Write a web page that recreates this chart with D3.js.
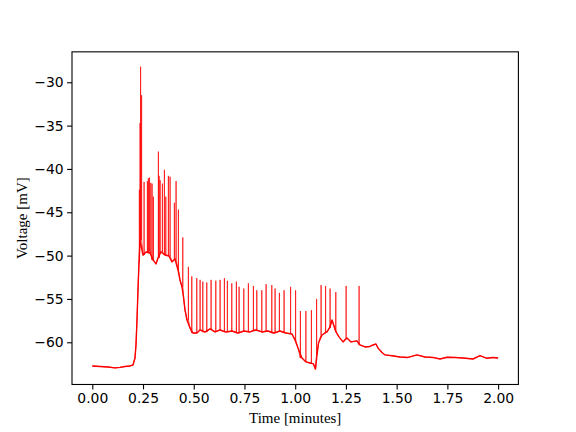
<!DOCTYPE html>
<html>
<head>
<meta charset="utf-8">
<script src="https://cdn.jsdelivr.net/npm/d3@7"></script>
<style>
  body { margin: 0; background: #fff; }
</style>
</head>
<body>
<svg id="chart" width="576" height="432"></svg>
<script>
// slow membrane trace (minutes, mV)
const baseTime = [0, 0.038, 0.077, 0.112, 0.137, 0.161, 0.186, 0.2006, 0.2104, 0.2154, 0.2203, 0.2252, 0.2302, 0.2351,
  0.2499, 0.2647, 0.2844, 0.2992, 0.3139, 0.3238, 0.3386, 0.3583, 0.378, 0.3928, 0.4076, 0.4224, 0.4323, 0.4421,
  0.4495, 0.4569, 0.4667, 0.4815, 0.4963, 0.516, 0.5308, 0.5555, 0.5801, 0.6047, 0.6294, 0.659, 0.6886, 0.7181,
  0.7477, 0.7773, 0.8068, 0.8364, 0.866, 0.8955, 0.9251, 0.9547, 0.9843, 0.999, 1.0138, 1.0335, 1.0532, 1.0729,
  1.0902, 1.1, 1.1074, 1.1148, 1.1321, 1.1567, 1.169, 1.1814, 1.1912, 1.2011, 1.2159, 1.2356, 1.2553, 1.275,
  1.3046, 1.3193, 1.3439, 1.3686, 1.3834, 1.3982, 1.4081, 1.4278, 1.4426, 1.477, 1.5165, 1.5559, 1.6003, 1.6397,
  1.6791, 1.7136, 1.7481, 1.7876, 1.827, 1.8763, 1.9108, 1.9453, 1.9749, 2.0];
const baseVolt = [-62.73, -62.79, -62.85, -62.96, -62.9, -62.79, -62.73, -62.62, -61.81, -60.31, -57.43, -53.96, -50.73, -48.2,
  -49.93, -49.58, -49.7, -50.5, -50.96, -50.27, -49.58, -49.93, -50.04, -50.73, -50.39, -51.66, -52.81, -53.62,
  -54.77, -56.27, -57.43, -58.35, -58.93, -58.93, -58.58, -58.81, -58.46, -58.81, -58.58, -58.81, -58.7, -58.93,
  -58.7, -58.81, -58.58, -58.81, -58.7, -58.93, -58.7, -58.93, -59.04, -59.73, -60.66, -61.81, -62.27, -62.39,
  -62.5, -63.1, -61.46, -60.08, -59.16, -58.81, -58.35, -57.43, -58.12, -58.81, -59.38, -59.96, -59.5, -59.96,
  -59.84, -60.31, -60.54, -60.48, -60.31, -60.2, -60.66, -61.18, -61.46, -61.55, -61.7, -61.75, -61.46, -61.7,
  -61.75, -61.93, -61.73, -61.75, -61.81, -61.93, -61.55, -61.85, -61.75, -61.81];

// spikes: time and peak voltage
const spikeTime = [0.2316, 0.235, 0.2376, 0.2425, 0.2548, 0.2711, 0.276, 0.2809, 0.2878, 0.2942, 0.3006, 0.3253,
  0.3287, 0.3337, 0.345, 0.3549, 0.3618, 0.3746, 0.3829, 0.4041, 0.4125, 0.4239, 0.4455, 0.4731, 0.4899, 0.5145,
  0.5308, 0.5441, 0.5638, 0.585, 0.6082, 0.6294, 0.6506, 0.6653, 0.687, 0.7097, 0.723, 0.7462, 0.7688, 0.7935,
  0.8102, 0.8349, 0.8561, 0.8842, 0.9004, 0.9216, 0.9448, 0.9768, 1.0015, 1.0251, 1.0522, 1.0793, 1.105, 1.1271,
  1.1493, 1.1715, 1.1996, 1.2504, 1.3144];
const spikePeak = [-42.4, -34.7, -28.2, -31.5, -41.5, -41.4, -41.1, -41.0, -41.6, -41.7, -43.2, -38.0,
  -40.8, -41.3, -41.7, -40.1, -43.2, -40.8, -40.9, -43.9, -41.4, -44.7, -47.9, -51.3, -52.4, -52.6,
  -52.8, -53.0, -53.1, -52.8, -52.9, -52.8, -52.6, -52.9, -53.2, -53.0, -53.6, -53.8, -53.2, -53.5,
  -54.0, -54.0, -53.3, -53.4, -53.8, -54.3, -54.0, -53.6, -54.0, -56.4, -56.4, -56.3, -55.0, -53.4,
  -53.5, -53.8, -54.2, -53.5, -53.5];

const xTicks = [0, 0.25, 0.5, 0.75, 1.0, 1.25, 1.5, 1.75, 2.0];
const yTicks = [-60, -55, -50, -45, -40, -35, -30];

const svg = d3.select("#chart");
const plot = { left: 72, right: 518.4, top: 51.84, bottom: 384.48 };

const x = d3.scaleLinear().domain([-0.1, 2.1]).range([plot.left, plot.right]);
const y = d3.scaleLinear().domain([-64.87, -26.49]).range([plot.bottom, plot.top]);

const base = baseTime.map((t, i) => [t, baseVolt[i]]);

// put the spikes into the trace, each one rising from the nearest trace sample
const points = base.slice();
spikeTime.forEach((t, i) => {
  let j = d3.bisectLeft(baseTime, t);
  if (j > 0 && (j >= baseTime.length || t - baseTime[j - 1] < baseTime[j] - t)) j = j - 1;
  const v0 = baseVolt[j];
  points.push([t, v0], [t + 0.0005, spikePeak[i]], [t + 0.001, v0]);
});
points.sort((a, b) => a[0] - b[0]);

const line = d3.line()
  .x(d => x(d[0]))
  .y(d => y(d[1]));

// thin full trace, then the slow part a bit heavier (it is noisy in the original)
svg.append("path")
  .datum(points)
  .attr("fill", "none")
  .attr("stroke", "#ff0000")
  .attr("stroke-width", 0.7)
  .attr("stroke-linejoin", "round")
  .attr("d", line);

svg.append("path")
  .datum(base)
  .attr("fill", "none")
  .attr("stroke", "#ff0000")
  .attr("stroke-width", 1.4)
  .attr("stroke-linejoin", "round")
  .attr("d", line);

// axes
const xAxis = d3.axisBottom(x)
  .tickValues(xTicks)
  .tickFormat(d3.format(".2f"))
  .tickSize(4.9)
  .tickPadding(3.5);

const yAxis = d3.axisLeft(y)
  .tickValues(yTicks)
  .tickFormat(d3.format("d"))
  .tickSize(4.9)
  .tickPadding(3.5);

const gx = svg.append("g")
  .attr("transform", `translate(0,${plot.bottom})`)
  .call(xAxis);
const gy = svg.append("g")
  .attr("transform", `translate(${plot.left},0)`)
  .call(yAxis);

[gx, gy].forEach(g => {
  g.select(".domain").remove();
  g.selectAll(".tick line").attr("stroke", "#000").attr("stroke-width", 1.1);
  g.selectAll(".tick text")
    .attr("fill", "#000")
    .style("font-family", "'DejaVu Sans'")
    .style("font-size", "13.9px");
});

svg.append("rect")
  .attr("x", plot.left)
  .attr("y", plot.top)
  .attr("width", plot.right - plot.left)
  .attr("height", plot.bottom - plot.top)
  .attr("fill", "none")
  .attr("stroke", "#000")
  .attr("stroke-width", 1.1);

svg.append("text")
  .attr("x", (plot.left + plot.right) / 2)
  .attr("y", 423)
  .attr("text-anchor", "middle")
  .style("font-family", "'Liberation Serif'")
  .style("font-size", "15px")
  .text("Time [minutes]");

svg.append("text")
  .attr("transform", `translate(27,${(plot.top + plot.bottom) / 2}) rotate(-90)`)
  .attr("text-anchor", "middle")
  .style("font-family", "'Liberation Serif'")
  .style("font-size", "15px")
  .text("Voltage [mV]");
</script>
</body>
</html>
